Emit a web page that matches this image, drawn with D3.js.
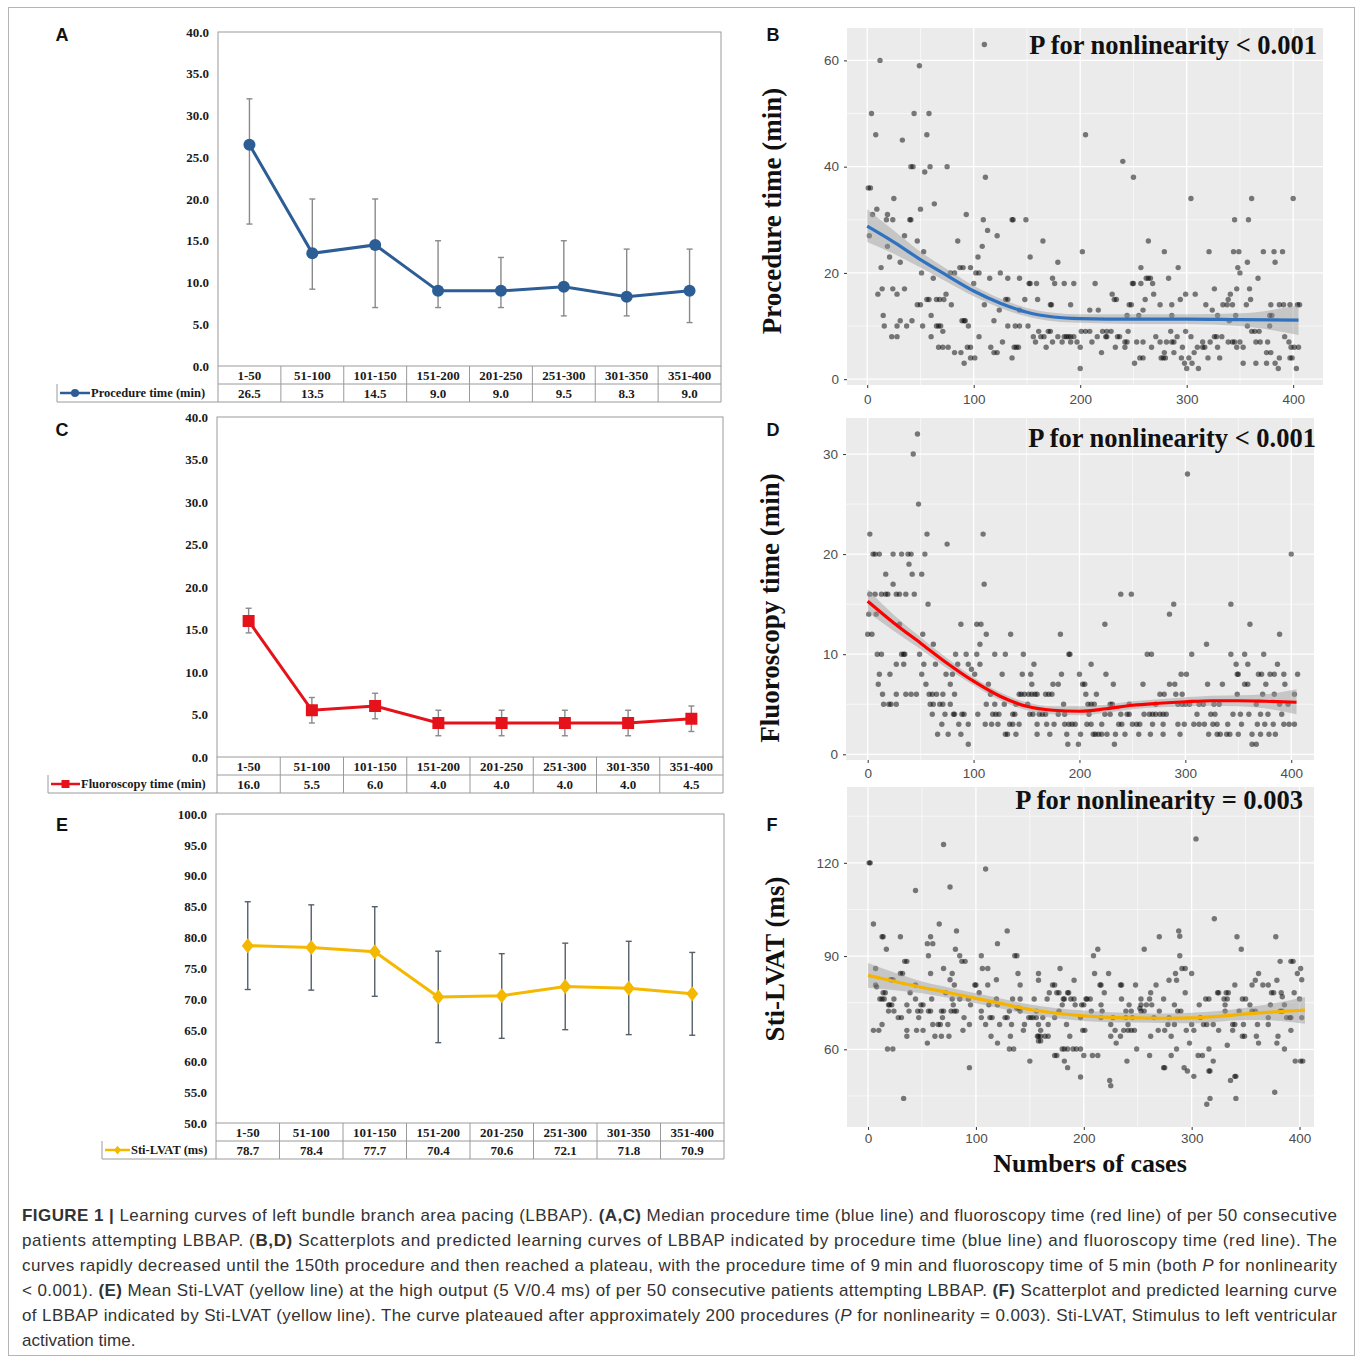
<!DOCTYPE html>
<html>
<head>
<meta charset="UTF-8">
<title>LBBAP learning curves</title>
<script src="https://cdn.jsdelivr.net/npm/d3@7"></script>
<style>
  body { margin: 0; background: #fff; }
  svg { display: block; }
</style>
</head>
<body>
<div id="chart"></div>
<script>
// groups of 50 consecutive patients
var groups = ["1-50", "51-100", "101-150", "151-200", "201-250", "251-300", "301-350", "351-400"];

// A: procedure time (median, error bars)
var procMedian = [26.5, 13.5, 14.5, 9.0, 9.0, 9.5, 8.3, 9.0];
var procLow = [17.0, 9.2, 7.0, 7.0, 7.0, 6.0, 6.0, 5.2];
var procHigh = [32.0, 20.0, 20.0, 15.0, 13.0, 15.0, 14.0, 14.0];

// C: fluoroscopy time
var fluoMedian = [16.0, 5.5, 6.0, 4.0, 4.0, 4.0, 4.0, 4.5];
var fluoLow = [14.6, 4.0, 4.5, 2.5, 2.5, 2.5, 2.5, 3.0];
var fluoHigh = [17.5, 7.0, 7.5, 5.5, 5.5, 5.5, 5.5, 6.0];

// E: Sti-LVAT (mean, error bars)
var lvatMean = [78.7, 78.4, 77.7, 70.4, 70.6, 72.1, 71.8, 70.9];
var lvatLow = [71.6, 71.5, 70.5, 63.0, 63.7, 65.1, 64.3, 64.2];
var lvatHigh = [85.8, 85.3, 85.0, 77.8, 77.4, 79.1, 79.4, 77.6];

// B: individual procedure times, [value, [case numbers]]
var procPoints = [
  [63, [110]], [60, [12]], [59, [49]], [50, [4, 44, 58]], [46, [8, 56, 205]], [45, [33]], [41, [240]],
  [40, [41, 43, 59, 75]], [39, [54]], [38, [111, 250]], [36, [1, 3]], [34, [25, 304, 361, 400]], [33, [63]],
  [32, [9, 50]], [31, [5, 19, 93]], [30, [18, 24, 40, 41, 109, 136, 137, 149, 345, 358]], [28, [113]],
  [27, [2, 35, 122]], [26, [47, 85, 165, 264]], [25, [19, 108]], [24, [53, 202, 279, 321, 344, 349, 372, 382, 390]],
  [23, [21, 104, 153]], [22, [31, 179, 357, 383]], [21, [13, 87, 90, 97, 257, 292, 348]],
  [20, [51, 78, 82, 102, 105, 125, 350]], [19, [62, 115, 132, 143, 174, 262, 264, 266, 283, 367]],
  [18, [100, 152, 153, 159, 176, 185, 194, 214, 249, 250, 257, 268]], [17, [14, 24, 35, 326, 347, 359]],
  [16, [10, 28, 74, 230, 269, 299, 308, 341]],
  [15, [56, 58, 65, 68, 72, 130, 132, 148, 160, 232, 234, 261, 294, 339, 360]],
  [14, [47, 50, 79, 110, 172, 173, 191, 246, 248, 275, 286, 318, 334, 338, 343, 356, 379, 387, 391, 397, 404, 406]],
  [13, [124, 143, 209, 217, 259, 324]], [12, [15, 60, 244, 255, 286, 329, 346, 378, 380]],
  [11, [31, 42, 89, 91, 92, 119, 340]], [10, [16, 28, 37, 52, 65, 67, 69, 95, 132, 139, 143, 151, 357, 378]],
  [9, [71, 161, 170, 172, 201, 205, 209, 221, 225, 229, 245, 285, 299, 361, 364, 368]],
  [8, [23, 28, 60, 105, 156, 163, 166, 179, 185, 187, 189, 191, 194, 216, 224, 225, 235, 237, 271, 291, 304, 326, 328, 333, 392]],
  [7, [127, 158, 174, 183, 191, 197, 211, 242, 244, 253, 259, 275, 281, 286, 288, 315, 322, 339, 343, 345, 350, 365, 369, 376, 396]],
  [6, [67, 71, 76, 94, 97, 116, 138, 140, 142, 168, 200, 233, 242, 267, 296, 310, 315, 317, 329, 347, 353, 398, 401, 405]],
  [5, [82, 88, 119, 122, 220, 279, 288, 307, 375, 379]],
  [4, [97, 101, 136, 256, 259, 276, 278, 280, 295, 302, 320, 331, 387, 397, 399]],
  [3, [91, 251, 298, 305, 353, 365, 375, 383]], [2, [200, 300, 311, 386, 403]]
];
var procFitX = [0, 25, 50, 75, 100, 125, 150, 175, 200, 250, 300, 350, 405];
var procFit = [28.8, 25.8, 22.5, 19.5, 16.6, 14.3, 12.6, 11.7, 11.4, 11.3, 11.3, 11.2, 11.1];
var procFitLow = [25.8, 23.6, 21.0, 18.3, 15.6, 13.4, 11.8, 10.9, 10.6, 10.4, 10.4, 10.0, 8.3];
var procFitHigh = [32.0, 28.0, 24.0, 20.7, 17.6, 15.2, 13.4, 12.5, 12.2, 12.2, 12.2, 12.4, 13.9];

// D: individual fluoroscopy times
var fluoPoints = [
  [32, [47]], [30, [43]], [28, [302]], [25, [48]], [22, [2, 56, 109]], [21, [75]],
  [20, [5, 7, 11, 24, 32, 38, 41, 54, 400]], [19, [39]], [18, [17, 42, 51]], [17, [24, 110]],
  [16, [2, 7, 13, 17, 19, 27, 30, 36, 44, 239, 249]], [15, [57, 289, 343]], [14, [1, 8, 285]],
  [13, [30, 88, 103, 107, 224, 361]], [12, [0, 4, 52, 112, 135, 182, 389]], [11, [62, 106, 320]],
  [10, [9, 13, 32, 34, 35, 49, 83, 93, 103, 120, 130, 147, 190, 191, 264, 268, 306, 343, 356, 374]],
  [9, [27, 34, 53, 64, 85, 95, 106, 157, 211, 348, 359, 387]], [8.5, [98]],
  [8, [11, 21, 51, 74, 80, 101, 127, 146, 154, 183, 200, 225, 296, 301, 349, 350, 369, 372, 380, 384, 393, 406]],
  [7, [10, 55, 78, 114, 155, 175, 180, 203, 205, 232, 260, 285, 290, 321, 335, 356, 359, 376, 394]],
  [6, [14, 27, 36, 41, 46, 58, 61, 65, 71, 82, 116, 143, 145, 148, 152, 155, 158, 160, 168, 171, 174, 206, 216, 276, 280, 291, 297, 349, 373, 384, 403]],
  [5, [15, 20, 22, 27, 59, 62, 68, 71, 78, 112, 120, 129, 140, 151, 185, 208, 211, 214, 229, 231, 247, 272, 293, 297, 300, 304, 313, 317, 327, 332, 367, 389, 397]],
  [4, [61, 73, 81, 82, 89, 91, 104, 118, 121, 124, 137, 139, 153, 156, 162, 165, 168, 180, 186, 209, 224, 229, 239, 245, 247, 261, 266, 269, 272, 276, 279, 282, 311, 324, 328, 345, 352, 360, 371, 378, 391]],
  [3, [70, 86, 95, 111, 117, 123, 134, 137, 143, 160, 169, 176, 186, 190, 193, 196, 207, 211, 221, 237, 240, 250, 254, 257, 269, 279, 293, 299, 308, 313, 318, 326, 330, 340, 353, 368, 375, 383, 393, 398, 403]],
  [2, [66, 76, 88, 130, 132, 140, 160, 172, 188, 201, 213, 215, 218, 221, 226, 234, 243, 256, 267, 279, 295, 322, 330, 333, 339, 342, 350, 363, 371, 379, 385]],
  [1, [95, 189, 199, 233, 363, 367]]
];
var fluoFitX = [0, 25, 50, 75, 100, 125, 150, 175, 200, 225, 250, 275, 300, 325, 350, 375, 405];
var fluoFit = [15.3, 13.1, 11.1, 9.1, 7.3, 5.8, 4.8, 4.4, 4.3, 4.55, 4.9, 5.1, 5.25, 5.35, 5.35, 5.3, 5.2];
var fluoFitLow = [14.2, 12.3, 10.5, 8.6, 6.9, 5.4, 4.4, 4.0, 3.9, 4.15, 4.5, 4.7, 4.8, 4.85, 4.8, 4.6, 4.0];
var fluoFitHigh = [16.5, 13.9, 11.7, 9.6, 7.7, 6.2, 5.2, 4.8, 4.8, 4.95, 5.3, 5.5, 5.7, 5.85, 5.9, 6.0, 6.5];

// F: individual Sti-LVAT values
var lvatPoints = [
  [127.7, [304]], [125.9, [70]], [120, [1, 2]], [118, [109]], [112.2, [76]], [111.1, [44]], [102, [321]],
  [100.3, [5, 66]], [98.1, [82, 129, 288]], [96.4, [289]], [96.2, [13, 14, 30, 58, 270, 342, 378]],
  [94, [55, 60, 120]], [92.2, [17, 81, 213, 256, 346]], [90.1, [56, 85, 105, 136, 138, 209, 289]],
  [88.3, [34, 36, 87, 90, 382, 392, 394]], [86, [7, 70, 106, 111, 178, 291, 294, 401]],
  [84.4, [30, 32, 58, 78, 139, 158, 210, 223, 285, 300, 362, 398]],
  [82.4, [21, 23, 76, 119, 402]], [82.2, [158, 191, 279, 286, 359, 379]],
  [80.7, [7, 44, 80, 99, 100, 111, 141, 171, 173, 215, 216, 234, 235, 248, 267, 340, 356, 366, 371]], [80.1, [8]],
  [78.2, [14, 16, 39, 72, 103, 168, 175, 177, 185, 186, 219, 262, 294, 324, 325, 332, 334, 374, 376, 383, 395]], [76.9, [384]],
  [76.2, [11, 13, 15, 24, 44, 59, 78, 85, 93, 119, 134, 141, 154, 166, 181, 182, 188, 191, 202, 203, 206, 235, 253, 261, 274, 313, 316, 330, 333, 347, 350, 400]],
  [74.3, [19, 20, 22, 36, 49, 51, 79, 95, 112, 120, 180, 192, 198, 200, 216, 242, 253, 258, 263, 284, 307, 331, 354, 373, 386]],
  [73.2, [138, 140, 252]],
  [72.3, [19, 24, 38, 46, 49, 56, 58, 68, 70, 77, 80, 82, 105, 131, 141, 156, 177, 207, 217, 239, 244, 253, 256, 270, 287, 290, 331, 344, 356, 359, 382, 384]],
  [70.2, [28, 31, 47, 69, 89, 105, 113, 115, 127, 129, 149, 151, 153, 156, 162, 173, 197, 216, 227, 239, 245, 265, 279, 308, 371, 388, 391, 392, 402]],
  [68, [13, 60, 65, 67, 74, 94, 109, 122, 133, 145, 158, 167, 184, 225, 241, 278, 284, 300, 311, 314, 320, 338, 340, 348, 361, 371]],
  [66.1, [5, 10, 36, 45, 51, 88, 144, 160, 199, 201, 229, 237, 241, 244, 247, 269, 275, 295, 302, 325, 338, 392]],
  [64.2, [36, 62, 68, 75, 114, 132, 157, 158, 160, 164, 167, 187, 225, 234, 262, 281, 347, 349, 360, 380]],
  [62.7, [158, 160]], [62, [55, 120, 230, 298, 362, 379]], [61.3, [333]],
  [60.1, [18, 23, 131, 135, 180, 182, 185, 190, 193, 197, 249, 286, 316, 386]],
  [58, [173, 175, 200, 208, 213, 261, 281, 306, 310]],
  [56.2, [150, 182, 240, 320, 396, 401, 403]], [54.1, [94, 185, 274, 275, 293]], [53, [296, 316, 317]],
  [51.3, [302, 340, 341]], [51.1, [197]], [50, [224, 336]], [48.3, [225]], [46.2, [377]],
  [44.2, [33, 317, 341]], [42.3, [314]]
];
var lvatFitX = [0, 25, 50, 75, 100, 125, 150, 175, 200, 225, 250, 275, 300, 325, 350, 375, 405];
var lvatFit = [83.8, 81.8, 79.9, 78.2, 76.4, 74.6, 72.8, 71.6, 70.8, 70.3, 70.1, 70.0, 70.1, 70.6, 71.4, 72.0, 72.6];
var lvatFitLow = [79.8, 79.0, 78.0, 76.5, 74.8, 73.0, 71.2, 70.0, 69.1, 68.7, 68.6, 68.5, 68.4, 68.9, 69.4, 69.3, 68.2];
var lvatFitHigh = [87.8, 84.6, 81.8, 79.9, 78.0, 76.2, 74.4, 73.2, 72.5, 71.9, 71.6, 71.5, 71.8, 72.3, 73.4, 74.7, 76.8];

// caption, one entry per printed line; "b" = bold, "i" = italic
var captionLines = [
  [["FIGURE 1 |", "b"], [" Learning curves of left bundle branch area pacing (LBBAP). "], ["(A,C)", "b"], [" Median procedure time (blue line) and fluoroscopy time (red line) of per 50 consecutive"]],
  [["patients attempting LBBAP. ("], ["B,D)", "b"], [" Scatterplots and predicted learning curves of LBBAP indicated by procedure time (blue line) and fluoroscopy time (red line). The"]],
  [["curves rapidly decreased until the 150th procedure and then reached a plateau, with the procedure time of 9\u2009min and fluoroscopy time of 5\u2009min (both "], ["P", "i"], [" for nonlinearity"]],
  [["< 0.001). "], ["(E)", "b"], [" Mean Sti-LVAT (yellow line) at the high output (5 V/0.4 ms) of per 50 consecutive patients attempting LBBAP. "], ["(F)", "b"], [" Scatterplot and predicted learning curve"]],
  [["of LBBAP indicated by Sti-LVAT (yellow line). The curve plateaued after approximately 200 procedures ("], ["P", "i"], [" for nonlinearity = 0.003). Sti-LVAT, Stimulus to left ventricular"]],
  [["activation time."]]
];

var serif = "'Liberation Serif', 'Times New Roman', serif";
var sans = "'Liberation Sans', Arial, sans-serif";

var svg = d3.select("#chart").append("svg")
  .attr("width", 1357)
  .attr("height", 1357);

svg.append("rect").attr("width", 1357).attr("height", 1357).attr("fill", "#fff");
svg.append("rect")
  .attr("x", 8.5).attr("y", 7.5).attr("width", 1346).attr("height", 1348)
  .attr("fill", "none").attr("stroke", "#b5b5b5");

// marker shapes for the group panels
function markerPath(type, s) {
  if (type == "circle") return d3.symbol(d3.symbolCircle, Math.PI * s * s)();
  if (type == "square") return "M" + -s + "," + -s + "H" + s + "V" + s + "H" + -s + "Z";
  return "M0," + (-s * 1.25) + "L" + s + ",0L0," + (s * 1.25) + "L" + -s + ",0Z";
}

function linePanel(o) {
  var g = svg.append("g");
  var x = d3.scaleBand().domain(groups).range([o.left, o.right]);
  var y = d3.scaleLinear().domain(o.domain).range([o.bottom, o.top]);
  var cx = function(i) { return x(groups[i]) + x.bandwidth() / 2; };

  g.append("rect")
    .attr("x", o.left).attr("y", o.top)
    .attr("width", o.right - o.left).attr("height", o.bottom - o.top)
    .attr("fill", "none").attr("stroke", "#9a9a9a");

  var ax = g.append("g")
    .attr("transform", "translate(" + o.left + ",0)")
    .call(d3.axisLeft(y)
      .tickValues(d3.range(o.domain[0], o.domain[1] + 0.01, 5))
      .tickSize(0).tickPadding(9)
      .tickFormat(d3.format(".1f")));
  ax.select(".domain").remove();
  ax.selectAll("text")
    .attr("font-family", serif).attr("font-weight", "bold")
    .attr("font-size", 13).attr("fill", "#1a1a1a");

  // data table under the plot
  var r1 = o.bottom, r2 = o.bottom + 18, r3 = o.bottom + 36;
  var t = g.append("g").attr("stroke", "#9a9a9a").attr("fill", "none");
  t.append("line").attr("x1", o.left).attr("x2", o.right).attr("y1", r2).attr("y2", r2);
  t.append("line").attr("x1", o.legendLeft).attr("x2", o.right).attr("y1", r3).attr("y2", r3);
  t.append("line").attr("x1", o.legendLeft).attr("x2", o.legendLeft).attr("y1", r2).attr("y2", r3);
  t.append("line").attr("x1", o.left).attr("x2", o.left).attr("y1", r1).attr("y2", r3);
  t.selectAll(".sep").data(groups).enter().append("line")
    .attr("x1", function(d) { return x(d) + x.bandwidth(); })
    .attr("x2", function(d) { return x(d) + x.bandwidth(); })
    .attr("y1", r1).attr("y2", r3);

  g.selectAll(".cat").data(groups).enter().append("text")
    .attr("x", function(d, i) { return cx(i); })
    .attr("y", (r1 + r2) / 2).attr("dy", "0.35em")
    .attr("text-anchor", "middle")
    .attr("font-family", serif).attr("font-weight", "bold").attr("font-size", 13)
    .attr("fill", "#1a1a1a")
    .text(function(d) { return d; });
  g.selectAll(".val").data(o.values).enter().append("text")
    .attr("x", function(d, i) { return cx(i); })
    .attr("y", (r2 + r3) / 2).attr("dy", "0.35em")
    .attr("text-anchor", "middle")
    .attr("font-family", serif).attr("font-weight", "bold").attr("font-size", 13)
    .attr("fill", "#1a1a1a")
    .text(function(d) { return d.toFixed(1); });

  // legend cell
  var ly = (r2 + r3) / 2;
  g.append("line")
    .attr("x1", o.legendLeft + 3).attr("x2", o.legendLeft + o.legendLine)
    .attr("y1", ly).attr("y2", ly)
    .attr("stroke", o.color).attr("stroke-width", 2.5);
  g.append("path")
    .attr("d", markerPath(o.marker, o.marker == "diamond" ? 3.5 : 4))
    .attr("transform", "translate(" + (o.legendLeft + 3 + (o.legendLine - 3) / 2) + "," + ly + ")")
    .attr("fill", o.color);
  g.append("text")
    .attr("x", o.legendLeft + o.legendLine + 1).attr("y", ly).attr("dy", "0.35em")
    .attr("font-family", serif).attr("font-weight", "bold").attr("font-size", 12.5)
    .attr("fill", "#1a1a1a")
    .text(o.label);

  // error bars
  var eb = g.append("g").attr("stroke", o.errColor).attr("stroke-width", 1.4);
  o.values.forEach(function(v, i) {
    var xx = cx(i);
    eb.append("line").attr("x1", xx).attr("x2", xx).attr("y1", y(o.low[i])).attr("y2", y(o.high[i]));
    eb.append("line").attr("x1", xx - 3).attr("x2", xx + 3).attr("y1", y(o.low[i])).attr("y2", y(o.low[i]));
    eb.append("line").attr("x1", xx - 3).attr("x2", xx + 3).attr("y1", y(o.high[i])).attr("y2", y(o.high[i]));
  });

  var line = d3.line()
    .x(function(d, i) { return cx(i); })
    .y(function(d) { return y(d); });
  g.append("path").datum(o.values)
    .attr("d", line)
    .attr("fill", "none").attr("stroke", o.color).attr("stroke-width", 3);

  g.selectAll(".mk").data(o.values).enter().append("path")
    .attr("d", markerPath(o.marker, 6))
    .attr("transform", function(d, i) { return "translate(" + cx(i) + "," + y(d) + ")"; })
    .attr("fill", o.color);
}

function ggPanel(o) {
  var g = svg.append("g");
  var x = d3.scaleLinear().domain(o.xDomain).range([o.left, o.right]);
  var y = d3.scaleLinear().domain(o.yDomain).range([o.bottom, o.top]);

  g.append("rect")
    .attr("x", o.left).attr("y", o.top)
    .attr("width", o.right - o.left).attr("height", o.bottom - o.top)
    .attr("fill", "#ebebeb");

  var grid = g.append("g").attr("stroke", "#fff");
  o.yMinor.forEach(function(v) {
    grid.append("line").attr("x1", o.left).attr("x2", o.right).attr("y1", y(v)).attr("y2", y(v)).attr("stroke-width", 0.6);
  });
  [50, 150, 250, 350].forEach(function(v) {
    grid.append("line").attr("x1", x(v)).attr("x2", x(v)).attr("y1", o.top).attr("y2", o.bottom).attr("stroke-width", 0.6);
  });
  o.yTicks.forEach(function(v) {
    grid.append("line").attr("x1", o.left).attr("x2", o.right).attr("y1", y(v)).attr("y2", y(v)).attr("stroke-width", 1.3);
  });
  [0, 100, 200, 300, 400].forEach(function(v) {
    grid.append("line").attr("x1", x(v)).attr("x2", x(v)).attr("y1", o.top).attr("y2", o.bottom).attr("stroke-width", 1.3);
  });

  // scatter points
  var pts = [];
  o.points.forEach(function(row) {
    row[1].forEach(function(c) { pts.push([c, row[0]]); });
  });
  g.selectAll(".pt").data(pts).enter().append("circle")
    .attr("cx", function(d) { return x(d[0]); })
    .attr("cy", function(d) { return y(d[1]); })
    .attr("r", 2.7)
    .attr("fill", "#000").attr("fill-opacity", 0.5);

  // smoothed fit with confidence band
  var fit = o.fitX.map(function(v, i) { return [v, o.fit[i], o.fitLow[i], o.fitHigh[i]]; });
  g.append("path").datum(fit)
    .attr("d", d3.area()
      .x(function(d) { return x(d[0]); })
      .y0(function(d) { return y(d[2]); })
      .y1(function(d) { return y(d[3]); })
      .curve(d3.curveMonotoneX))
    .attr("fill", "#999").attr("fill-opacity", 0.45);
  g.append("path").datum(fit)
    .attr("d", d3.line()
      .x(function(d) { return x(d[0]); })
      .y(function(d) { return y(d[1]); })
      .curve(d3.curveMonotoneX))
    .attr("fill", "none").attr("stroke", o.color).attr("stroke-width", 3.2);

  // axes
  var ya = g.append("g").attr("transform", "translate(" + o.left + ",0)")
    .call(d3.axisLeft(y).tickValues(o.yTicks).tickSize(3).tickPadding(5));
  var xa = g.append("g").attr("transform", "translate(0," + o.bottom + ")")
    .call(d3.axisBottom(x).tickValues([0, 100, 200, 300, 400]).tickSize(3).tickPadding(o.xPad));
  [ya, xa].forEach(function(a) {
    a.select(".domain").remove();
    a.selectAll("line").attr("stroke", "#333");
    a.selectAll("text").attr("font-family", sans).attr("font-size", 13.5).attr("fill", "#4d4d4d");
  });

  g.append("text")
    .attr("transform", "translate(" + o.titleX + "," + o.titleY + ") rotate(-90)")
    .attr("text-anchor", "middle").attr("dy", "0.35em")
    .attr("font-family", serif).attr("font-weight", "bold").attr("font-size", 27)
    .attr("fill", "#111")
    .text(o.title);

  g.append("text")
    .attr("x", o.noteX).attr("y", o.noteY)
    .attr("text-anchor", "end")
    .attr("font-family", serif).attr("font-weight", "bold").attr("font-size", 26.5)
    .attr("fill", "#111")
    .text(o.note);
}

linePanel({
  left: 218, right: 721, top: 32, bottom: 366, domain: [0, 40],
  values: procMedian, low: procLow, high: procHigh,
  color: "#2c5d95", errColor: "#8a8a8a", marker: "circle",
  legendLeft: 57, legendLine: 33, label: "Procedure  time (min)"
});
linePanel({
  left: 217, right: 723, top: 417, bottom: 757, domain: [0, 40],
  values: fluoMedian, low: fluoLow, high: fluoHigh,
  color: "#e5121b", errColor: "#8a8a8a", marker: "square",
  legendLeft: 48, legendLine: 32, label: "Fluoroscopy time (min)"
});
linePanel({
  left: 216, right: 724, top: 814, bottom: 1123, domain: [50, 100],
  values: lvatMean, low: lvatLow, high: lvatHigh,
  color: "#f5b800", errColor: "#56606b", marker: "diamond",
  legendLeft: 102, legendLine: 28, label: "Sti-LVAT (ms)"
});

ggPanel({
  left: 847, right: 1323, top: 28, bottom: 385,
  xDomain: [-19, 428], yDomain: [-1.1, 66.1],
  yTicks: [0, 20, 40, 60], yMinor: [10, 30, 50], xPad: 6,
  points: procPoints, fitX: procFitX, fit: procFit, fitLow: procFitLow, fitHigh: procFitHigh,
  color: "#2f72c0",
  title: "Procedure time (min)", titleX: 772, titleY: 211,
  note: "P for nonlinearity < 0.001", noteX: 1317, noteY: 54
});
ggPanel({
  left: 846, right: 1314, top: 418, bottom: 760,
  xDomain: [-20.5, 421.5], yDomain: [-0.57, 33.6],
  yTicks: [0, 10, 20, 30], yMinor: [5, 15, 25], xPad: 5,
  points: fluoPoints, fitX: fluoFitX, fit: fluoFit, fitLow: fluoFitLow, fitHigh: fluoFitHigh,
  color: "#ff0000",
  title: "Fluoroscopy time (min)", titleX: 770, titleY: 608,
  note: "P for nonlinearity < 0.001", noteX: 1316, noteY: 447
});
ggPanel({
  left: 847, right: 1314, top: 787, bottom: 1127,
  xDomain: [-19.5, 413.4], yDomain: [35, 144.4],
  yTicks: [60, 90, 120], yMinor: [45, 75, 105, 135], xPad: 3,
  points: lvatPoints, fitX: lvatFitX, fit: lvatFit, fitLow: lvatFitLow, fitHigh: lvatFitHigh,
  color: "#f5b400",
  title: "Sti-LVAT (ms)", titleX: 775, titleY: 959,
  note: "P for nonlinearity = 0.003", noteX: 1303, noteY: 809
});

svg.append("text")
  .attr("x", 1090).attr("y", 1172)
  .attr("text-anchor", "middle")
  .attr("font-family", serif).attr("font-weight", "bold").attr("font-size", 26)
  .attr("fill", "#111")
  .text("Numbers of cases");

// panel letters
[["A", 62, 35], ["B", 773, 35], ["C", 62, 430], ["D", 773, 430], ["E", 62, 825], ["F", 772, 825]]
  .forEach(function(p) {
    svg.append("text")
      .attr("x", p[1]).attr("y", p[2]).attr("dy", "0.35em")
      .attr("text-anchor", "middle")
      .attr("font-family", sans).attr("font-weight", "bold").attr("font-size", 18)
      .attr("fill", "#111")
      .text(p[0]);
  });

// caption, justified to the figure width
captionLines.forEach(function(segs, i) {
  var t = svg.append("text")
    .attr("x", 22).attr("y", 1221 + i * 25)
    .attr("font-family", sans).attr("font-size", 17)
    .attr("fill", "#333");
  if (i < captionLines.length - 1) t.attr("textLength", 1315).attr("lengthAdjust", "spacing");
  segs.forEach(function(s) {
    t.append("tspan")
      .attr("font-weight", s[1] == "b" ? "bold" : null)
      .attr("font-style", s[1] == "i" ? "italic" : null)
      .text(s[0]);
  });
});
</script>
</body>
</html>
